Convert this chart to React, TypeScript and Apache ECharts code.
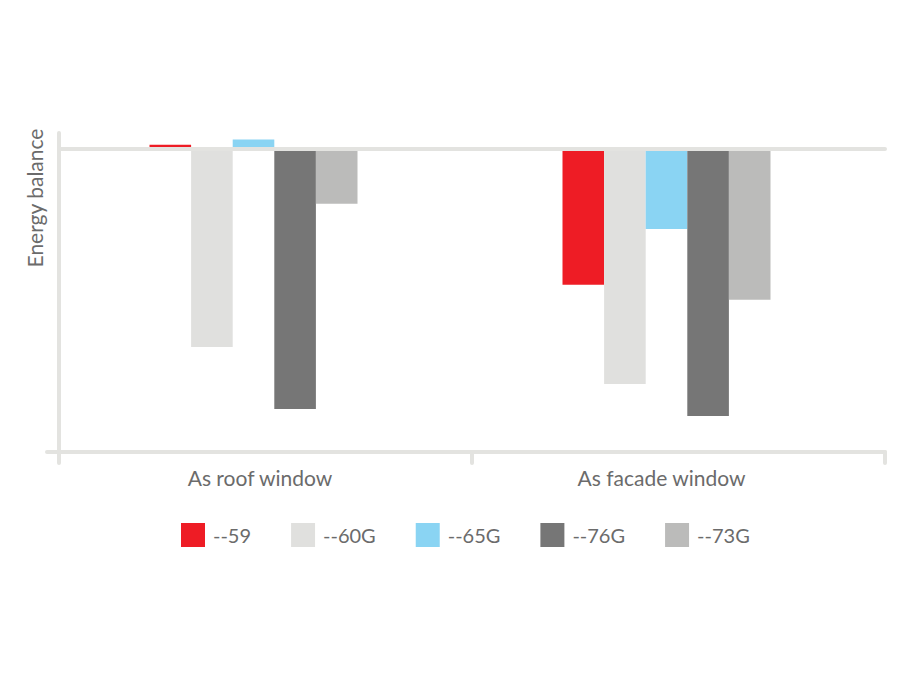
import {useEffect, useRef} from 'react';
import * as echarts from 'echarts';

const categories = ['As roof window', 'As facade window'];
const seriesNames = ['--59', '--60G', '--65G', '--76G', '--73G'];
const seriesColors = ['#ee1c25', '#e0e0de', '#8ad4f3', '#767676', '#bbbbba'];
// energy balance per series, [roof, facade]
const values59 = [1.3, -42.6];
const values60G = [-62.1, -73.7];
const values65G = [3.0, -25.1];
const values76G = [-81.5, -83.7];
const values73G = [-17.2, -47.3];
const allValues = [values59, values60G, values65G, values76G, values73G];

const axisGrey = '#e3e3e0';
const textGrey = '#6b6b6b';
const font = 'Lato';

const App = () => {
    const chartRef = useRef<HTMLDivElement>(null);

    useEffect(() => {
        if (!chartRef.current) return;
        const chart = echarts.init(chartRef.current, null, {renderer: 'svg'});

        const series: any[] = seriesNames.map((name, i) => ({
            name,
            type: 'bar',
            data: allValues[i],
            barWidth: 41.6,
            barGap: '0%',
            itemStyle: {color: seriesColors[i]},
            markLine: i === 0 ? {
                silent: true,
                symbol: 'none',
                label: {show: false},
                lineStyle: {color: axisGrey, width: 4, type: 'solid', cap: 'round'},
                data: [{yAxis: 0}],
            } : undefined,
        }));
        // empty spacer so the bar groups sit left of the category centre
        series.push({
            name: 'spacer',
            type: 'bar',
            data: [null, null],
            barWidth: 24,
            barGap: '0%',
            silent: true,
        });

        chart.setOption({
            animation: false,
            grid: {left: 59, right: 27, top: 133, bottom: 232},
            legend: {
                data: seriesNames,
                left: 176,
                top: 518,
                icon: 'rect',
                itemWidth: 24,
                itemHeight: 24,
                itemGap: 40,
                textStyle: {fontFamily: font, fontSize: 20, color: textGrey, padding: [8, 0, 0, 3]},
            },
            xAxis: {
                type: 'category',
                data: categories,
                boundaryGap: true,
                axisLine: {onZero: false, lineStyle: {color: axisGrey, width: 4, cap: 'round'}},
                axisTick: {show: true, length: 11, lineStyle: {color: axisGrey, width: 4, cap: 'round'}},
                axisLabel: {
                    margin: 15,
                    fontFamily: font,
                    fontSize: 21,
                    color: textGrey,
                    formatter: (v: string, idx: number) => (idx === 0 ? `{a|${v}}` : `{b|${v}}`),
                    rich: {
                        a: {fontFamily: font, fontSize: 21, color: textGrey, padding: [0, 11, 0, 0]},
                        b: {fontFamily: font, fontSize: 21, color: textGrey, padding: [0, 34, 0, 0]},
                    },
                },
                splitLine: {show: false},
            },
            yAxis: {
                type: 'value',
                min: -95,
                max: 5,
                axisLine: {show: true, lineStyle: {color: axisGrey, width: 4, cap: 'round'}},
                axisTick: {show: false},
                axisLabel: {show: false},
                splitLine: {show: false},
            },
            graphic: [
                {
                    type: 'text',
                    x: 34,
                    y: 198,
                    rotation: Math.PI / 2,
                    style: {
                        text: 'Energy balance',
                        fontFamily: font,
                        fontSize: 21,
                        fill: textGrey,
                        textAlign: 'center',
                        textVerticalAlign: 'middle',
                    },
                },
                {
                    type: 'line',
                    shape: {x1: 47, y1: 452, x2: 59, y2: 452},
                    style: {stroke: axisGrey, lineWidth: 4, lineCap: 'round'},
                },
            ],
            series,
        });

        return () => {
            chart.dispose();
        };
    }, []);

    return <div ref={chartRef} style={{width: 912, height: 684, margin: -8}} />;
};

export default App;
